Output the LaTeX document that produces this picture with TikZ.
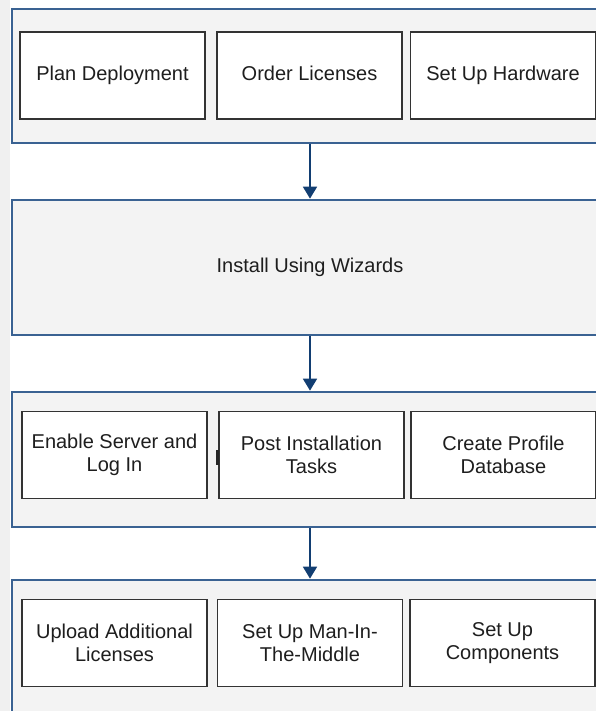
\documentclass[tikz,border=0pt]{standalone}
\usepackage{fontspec}
\setmainfont{Liberation Sans}
\usetikzlibrary{fit,arrows.meta}
\definecolor{contfill}{HTML}{F3F3F3}
\definecolor{contline}{HTML}{3A6292}
\definecolor{arrc}{HTML}{123E72}
\definecolor{boxline}{HTML}{333333}
\definecolor{strip}{HTML}{F0F0F0}
\definecolor{txt}{HTML}{1E1E1E}
\begin{document}
\begin{tikzpicture}[x=0.75pt,y=-0.75pt,
  container/.style={draw=contline,line width=1.4pt,fill=contfill,inner sep=0pt},
  plaintext/.style={font=\fontsize{15}{17.5}\selectfont,text=txt,inner sep=0pt,
    text height=11pt,text depth=3pt},
  stepbox/.style={draw=boxline,line width=1.2pt,fill=white,minimum width=138.5pt,
    minimum height=65pt,align=center,inner sep=2pt,
    font=\fontsize{15}{17.5}\selectfont,text=txt},
  onebox/.style={stepbox,text height=11pt,text depth=3pt},
  arr/.style={draw=arrc,line width=1.2pt,-{Triangle[width=10.5pt,length=9pt]},arrc,shorten >=0.3pt}]
\useasboundingbox (0,0) rectangle (596,711);
\clip (0,0) rectangle (596,711);
\fill[white] (0,0) rectangle (596,711);
\fill[strip] (0,0) rectangle (10,711);
% containers
\node[container,fit={(12,9) (608,143)}] (c1) {};
\node[container,fit={(12,200) (608,335)}] (c2) {};
\node[container,fit={(12,392) (608,527)}] (c3) {};
\node[container,fit={(12,580) (608,730)}] (c4) {};
\node[plaintext] (wiz) at (c2.center) {Install Using Wizards};
% row 1
\node[onebox] (plan) at (112.5,75.5) {Plan Deployment};
\node[onebox] (order) at (309.5,75.5) {Order Licenses};
\node[onebox] (hw) at (503,75.5) {Set Up Hardware};
% row 3
\node[stepbox] (enable) at (114.5,455) {Enable Server and\\Log In};
\node[stepbox] (post) at (311.5,455) {Post Installation\\Tasks};
\node[stepbox] (profile) at (503.5,455) {Create Profile\\Database};
\fill[black!85] (216,450) rectangle (218.5,465);
% row 4
\node[stepbox] (upload) at (114.5,643) {Upload Additional\\Licenses};
\node[stepbox] (mitm) at (310,643) {Set Up Man-In-\\The-Middle};
\node[stepbox] (comp) at (502.5,643) {Set Up\\Components};
% arrows
\draw[arr] (c1.south) -- (c2.north);
\draw[arr] (c2.south) -- (c3.north);
\draw[arr] (c3.south) -- (c4.north);
\end{tikzpicture}
\end{document}
